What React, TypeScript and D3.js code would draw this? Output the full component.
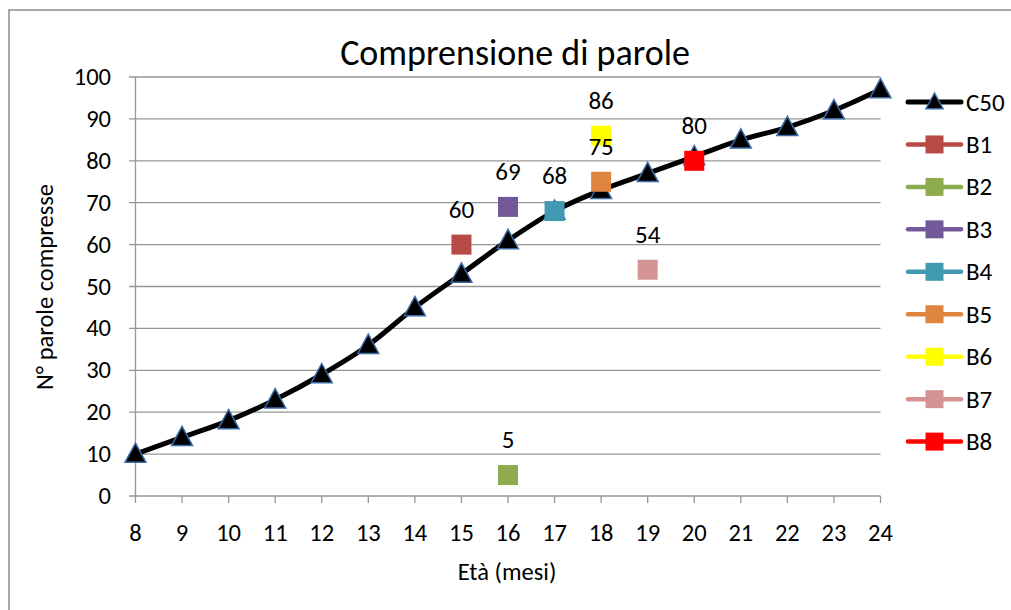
import React from "react";
import * as d3 from "d3";

const months = [8, 9, 10, 11, 12, 13, 14, 15, 16, 17, 18, 19, 20, 21, 22, 23, 24];
const c50 = [10, 14, 18, 23, 29, 36, 45, 53, 61, 68, 73, 77, 81, 85, 88, 92, 97];
const bNames = ["B1", "B2", "B3", "B4", "B5", "B6", "B7", "B8"];
const bMonths = [15, 16, 16, 17, 18, 18, 19, 20];
const bValues = [60, 5, 69, 68, 75, 86, 54, 80];
const bColors = ["#b84a46", "#8eac4f", "#735999", "#4299b2", "#df8540", "#ffff00", "#d49494", "#ff0000"];
const yTicks = [0, 10, 20, 30, 40, 50, 60, 70, 80, 90, 100];

const FONT = "Carlito, Calibri, 'Liberation Sans Narrow', 'Liberation Sans', sans-serif";

export default function App() {
  const W = 1011, H = 610;
  const x = d3.scaleLinear().domain([8, 24]).range([135.5, 880.5]);
  const y = d3.scaleLinear().domain([0, 100]).range([496, 77]);
  const line = d3.line<number>()
    .x((_, i) => x(months[i]))
    .y((d) => y(d))
    .curve(d3.curveCatmullRom.alpha(0.5));
  const tri = (cx: number, cy: number, s = 11) =>
    `M${cx},${cy - s}L${cx + s * 0.95},${cy + s * 0.75}L${cx - s * 0.95},${cy + s * 0.75}Z`;
  const legendY = (i: number) => 102 + i * 42.45;
  return (
    <svg width={W} height={H} style={{ position: "absolute", left: 0, top: 0, fontFamily: FONT }}>
      <rect x={0} y={0} width={W} height={H} fill="#fff" />
      <rect x={9} y={10} width={W + 20} height={H + 20} fill="none" stroke="#8c8c8c" strokeWidth={1.5} />
      <text x={515} y={65} textAnchor="middle" fontSize={36} fill="#000">Comprensione di parole</text>
      {yTicks.map((t) => (
        <g key={t}>
          <line x1={129} x2={x(24)} y1={y(t)} y2={y(t)} stroke="#969696" strokeWidth={1.3} />
          <text x={111} y={y(t) + 8} textAnchor="end" fontSize={24.5} fill="#000">{t}</text>
        </g>
      ))}
      <line x1={x(8)} x2={x(8)} y1={y(100)} y2={y(0)} stroke="#969696" strokeWidth={1.3} />
      {months.map((m) => (
        <g key={m}>
          <line x1={x(m)} x2={x(m)} y1={y(0)} y2={y(0) + 7} stroke="#969696" strokeWidth={1.3} />
          <text x={x(m)} y={541} textAnchor="middle" fontSize={24.5} fill="#000">{m}</text>
        </g>
      ))}
      <text x={507} y={580} textAnchor="middle" fontSize={24.5} fill="#000">Età (mesi)</text>
      <text transform={`translate(53,287) rotate(-90)`} textAnchor="middle" fontSize={24.5} fill="#000">N° parole compresse</text>
      <path d={line(c50) || ""} fill="none" stroke="#000" strokeWidth={5} strokeLinejoin="round" />
      {c50.map((v, i) => (
        <path key={i} d={tri(x(months[i]), y(v))} fill="#000" stroke="#3a6aa5" strokeWidth={1.5} />
      ))}
      {bValues.map((v, i) => (
        <g key={bNames[i]}>
          <rect x={x(bMonths[i]) - 10} y={y(v) - 10} width={20} height={20} fill={bColors[i]} />
        </g>
      ))}
      {bValues.map((v, i) => (
        <text key={"l" + i} x={x(bMonths[i])} y={y(v) - 27} textAnchor="middle" fontSize={25} fill="#000">{v}</text>
      ))}
      <g>
        <line x1={908} x2={961} y1={legendY(0)} y2={legendY(0)} stroke="#000" strokeWidth={5} strokeLinecap="round" />
        <path d={tri(934.5, legendY(0), 9)} fill="#000" stroke="#3a6aa5" strokeWidth={1.5} />
        <text x={966} y={legendY(0) + 8.5} fontSize={25} fill="#000">C50</text>
        {bNames.map((n, i) => (
          <g key={n}>
            <line x1={908} x2={961} y1={legendY(i + 1)} y2={legendY(i + 1)} stroke={bColors[i]} strokeWidth={4.5} strokeLinecap="round" />
            <rect x={925.5} y={legendY(i + 1) - 9} width={18} height={18} fill={bColors[i]} />
            <text x={966} y={legendY(i + 1) + 8.5} fontSize={25} fill="#000">{n}</text>
          </g>
        ))}
      </g>
    </svg>
  );
}
